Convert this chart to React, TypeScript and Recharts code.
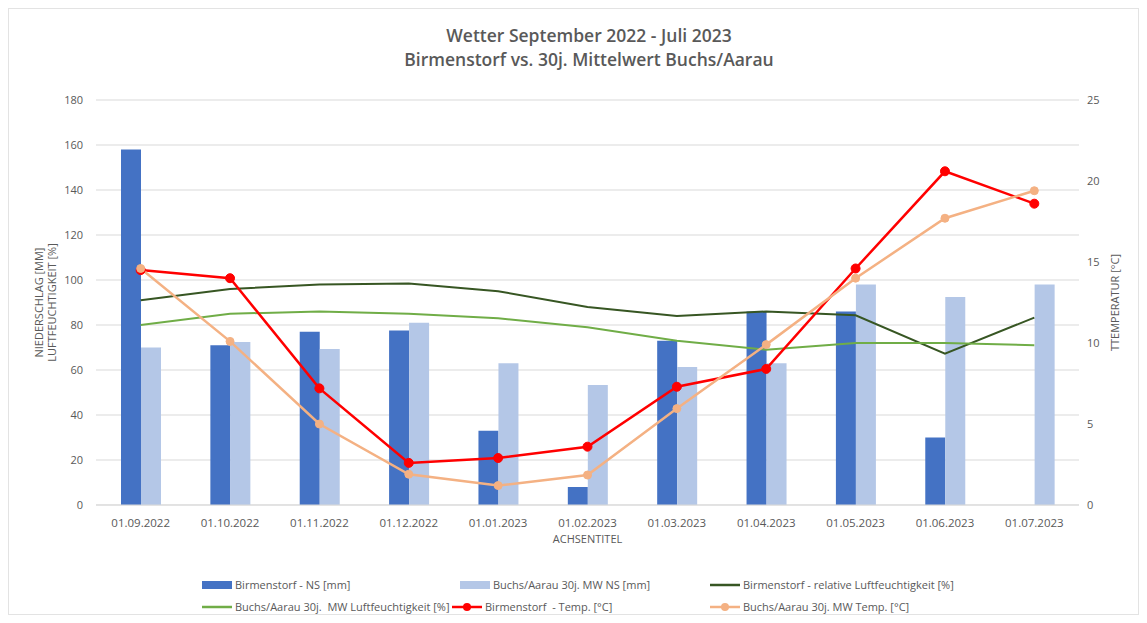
import React from "react";
import {
  ComposedChart,
  Bar,
  Line,
  XAxis,
  YAxis,
  CartesianGrid,
} from "recharts";

// monthly values
const months = [
  "01.09.2022", "01.10.2022", "01.11.2022", "01.12.2022", "01.01.2023", "01.02.2023",
  "01.03.2023", "01.04.2023", "01.05.2023", "01.06.2023", "01.07.2023",
];
const birmNs = [158, 71, 77, 77.6, 33, 8, 73, 86, 86, 30, null];
const buchsNs = [70, 72.4, 69.3, 81, 63, 53.3, 61.3, 63, 98, 92.4, 98];
const birmHum = [91, 96, 98, 98.4, 95, 88, 84, 86, 84.3, 67.3, 83.3];
const buchsHum = [80, 85, 86, 85, 83, 79, 73, 69, 72, 72, 71];
const birmTemp = [14.5, 14, 7.2, 2.6, 2.9, 3.6, 7.3, 8.4, 14.6, 20.6, 18.6];
const buchsTemp = [14.6, 10.1, 5, 1.9, 1.2, 1.85, 5.95, 9.9, 14, 17.7, 19.4];

const leftTicks = [0, 20, 40, 60, 80, 100, 120, 140, 160, 180];
const rightTicks = [0, 5, 10, 15, 20, 25];

const data = months.map((m, i) => ({
  month: m,
  birmNs: birmNs[i],
  buchsNs: buchsNs[i],
  birmHum: birmHum[i],
  buchsHum: buchsHum[i],
  birmTemp: birmTemp[i],
  buchsTemp: buchsTemp[i],
}));

const GREY = "#595959";
const FONT = "'Open Sans', sans-serif";

const legendItems = [
  { label: "Birmenstorf - NS [mm]", color: "#4472c4", kind: "box", left: 192, top: 576 },
  { label: "Buchs/Aarau 30j. MW NS [mm]", color: "#b4c7e7", kind: "box", left: 450, top: 576 },
  { label: "Birmenstorf - relative Luftfeuchtigkeit [%]", color: "#375623", kind: "line", left: 700, top: 576 },
  { label: "Buchs/Aarau 30j.  MW Luftfeuchtigkeit [%]", color: "#70ad47", kind: "line", left: 192, top: 598 },
  { label: "Birmenstorf  - Temp. [°C]", color: "#ff0000", kind: "dot", left: 442, top: 598 },
  { label: "Buchs/Aarau 30j. MW Temp. [°C]", color: "#f4b183", kind: "dot", left: 700, top: 598 },
];

function LegendMark({ kind, color }: { kind: string; color: string }) {
  return (
    <svg width={32} height={12} style={{ marginRight: 2 }}>
      {kind === "box" && <rect x={1} y={2} width={30} height={8} fill={color} />}
      {kind !== "box" && <line x1={1} x2={31} y1={6} y2={6} stroke={color} strokeWidth={2.5} />}
      {kind === "dot" && <circle cx={16} cy={6} r={4} fill={color} />}
    </svg>
  );
}

const leftLabel = (props: any) => {
  const vb = props.viewBox;
  const cy = vb.y + vb.height / 2;
  return (
    <g>
      <text x={29} y={cy} transform={`rotate(-90 29 ${cy})`} textAnchor="middle" dominantBaseline="central" fill={GREY} fontSize={11} fontFamily={FONT}>
        NIEDERSCHLAG [MM]
      </text>
      <text x={42} y={cy} transform={`rotate(-90 42 ${cy})`} textAnchor="middle" dominantBaseline="central" fill={GREY} fontSize={11} fontFamily={FONT}>
        LUFTFEUCHTIGKEIT [%]
      </text>
    </g>
  );
};

const rightLabel = (props: any) => {
  const vb = props.viewBox;
  const cy = vb.y + vb.height / 2;
  return (
    <text x={1105} y={cy} transform={`rotate(-90 1105 ${cy})`} textAnchor="middle" dominantBaseline="central" fill={GREY} fontSize={11} fontFamily={FONT}>
      TTEMPERATUR [°C]
    </text>
  );
};

export default function App() {
  return (
    <div
      style={{
        position: "relative",
        width: 1131,
        height: 607,
        border: "1px solid #e3e3e3",
        boxSizing: "border-box",
        background: "#fff",
        fontFamily: FONT,
      }}
    >
      <div
        style={{
          position: "absolute",
          left: 0,
          width: 1160,
          top: 14,
          textAlign: "center",
          color: GREY,
          fontFamily: FONT,
          fontSize: 17.5,
          fontWeight: 600,
          lineHeight: "24px",
        }}
      >
        <div>Wetter September 2022 - Juli 2023</div>
        <div>Birmenstorf vs. 30j. Mittelwert Buchs/Aarau</div>
      </div>

      <ComposedChart
        width={1131}
        height={607}
        data={data}
        margin={{ top: 91, right: 16, bottom: 71, left: 47 }}
        barGap={0}
        style={{ position: "absolute", left: 0, top: 0 }}
      >
        <CartesianGrid vertical={false} stroke="#d9d9d9" yAxisId="left" />
        <XAxis
          dataKey="month"
          stroke="#d9d9d9"
          tickLine={false}
          tick={{ fill: GREY, fontSize: 11.5, fontFamily: FONT }}
          tickMargin={8}
          height={40}
          interval={0}
          label={{ value: "ACHSENTITEL", position: "insideBottom", offset: 2, fill: GREY, fontSize: 11, fontFamily: FONT }}
        />
        <YAxis
          yAxisId="left"
          domain={[0, 180]}
          ticks={leftTicks}
          width={40}
          axisLine={false}
          tickLine={false}
          tickSize={0}
          tickMargin={13}
          tick={{ fill: GREY, fontSize: 11, fontFamily: FONT }}
          label={{ content: leftLabel }}
        />
        <YAxis
          yAxisId="right"
          orientation="right"
          domain={[0, 25]}
          ticks={rightTicks}
          width={45}
          axisLine={false}
          tickLine={false}
          tickSize={0}
          tickMargin={8}
          tick={{ fill: GREY, fontSize: 11, fontFamily: FONT }}
          label={{ content: rightLabel }}
        />
        <Bar yAxisId="left" dataKey="birmNs" fill="#4472c4" barSize={20} isAnimationActive={false} />
        <Bar yAxisId="left" dataKey="buchsNs" fill="#b4c7e7" barSize={20} isAnimationActive={false} />
        <Line yAxisId="left" dataKey="birmHum" stroke="#375623" strokeWidth={2} dot={false} isAnimationActive={false} />
        <Line yAxisId="left" dataKey="buchsHum" stroke="#70ad47" strokeWidth={2} dot={false} isAnimationActive={false} />
        <Line
          yAxisId="right"
          dataKey="birmTemp"
          stroke="#ff0000"
          strokeWidth={2.5}
          dot={{ r: 4.5, fill: "#ff0000", stroke: "#ff0000", strokeWidth: 1 }}
          isAnimationActive={false}
        />
        <Line
          yAxisId="right"
          dataKey="buchsTemp"
          stroke="#f4b183"
          strokeWidth={2.5}
          dot={{ r: 4, fill: "#f4b183", stroke: "#f4b183", strokeWidth: 1 }}
          isAnimationActive={false}
        />
      </ComposedChart>

      {legendItems.map((it) => (
        <div
          key={it.label}
          style={{
            position: "absolute",
            left: it.left,
            top: it.top - 6,
            display: "flex",
            alignItems: "center",
            fontSize: 11,
            color: GREY,
            whiteSpace: "pre",
            lineHeight: "12px",
          }}
        >
          <LegendMark kind={it.kind} color={it.color} />
          {it.label}
        </div>
      ))}
    </div>
  );
}
